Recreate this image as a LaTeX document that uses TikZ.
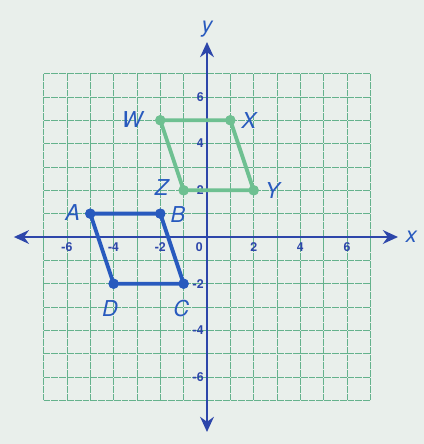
\documentclass[tikz,border=0pt]{standalone}
\usepackage{fontspec}
\setmainfont{TeX Gyre Heros}
\usetikzlibrary{arrows.meta}
\definecolor{bgc}{RGB}{233,239,235}
\definecolor{gridc}{RGB}{100,178,140}
\definecolor{axisc}{RGB}{45,70,170}
\definecolor{bluec}{RGB}{40,90,190}
\definecolor{greenc}{RGB}{110,192,145}
\tikzset{
  gridline/.style={draw=gridc, line width=0.55pt, dash pattern=on 5pt off 0.7pt},
  axisline/.style={draw=axisc, line width=1.8pt, -{Stealth[length=11pt,width=10pt]}},
  bshape/.style={draw=bluec, line width=2.8pt, line join=round},
  gshape/.style={draw=greenc, line width=2.8pt, line join=round},
  bdot/.style={circle, fill=bluec, inner sep=0pt, minimum size=7.5pt},
  gdot/.style={circle, fill=greenc, inner sep=0pt, minimum size=7.5pt},
  ptlabel/.style={text=bluec, font=\fontsize{16}{16}\selectfont\itshape, inner sep=0pt},
  ticklabel/.style={text=axisc, font=\fontsize{9}{9}\selectfont\bfseries, inner sep=0pt},
}
\begin{document}
\begin{tikzpicture}[x=0.6cm,y=0.6cm]
\fill[bgc] (-8.865,-8.865) rectangle (9.293,10.15);
\useasboundingbox (-8.865,-8.865) rectangle (9.293,10.15);
% grid
\foreach \i in {-7,...,7} {
  \draw[gridline] (\i,-7) -- (\i,7);
  \draw[gridline] (-7,\i) -- (7,\i);
}
% axes
\coordinate (xl) at (-8.27,0);
\coordinate (xr) at (8.18,0);
\coordinate (yb) at (0,-8.35);
\coordinate (yt) at (0,8.35);
\draw[axisline] (0,0) -- (xr);
\draw[axisline] (0,0) -- (xl);
\draw[axisline] (0,0) -- (yt);
\draw[axisline] (0,0) -- (yb);
\node[ptlabel] (xlab) at (8.75,0) {x};
\node[ptlabel] (ylab) at (0,8.9) {y};
% tick labels
\foreach \v/\n in {-6/tm6,-4/tm4,-2/tm2,2/tp2,4/tp4,6/tp6} {
  \node[ticklabel] (x\n) at (\v,-0.45) {\v};
}
\node[ticklabel] (x0) at (-0.33,-0.42) {0};
\foreach \v/\n in {-6/tm6,-4/tm4,-2/tm2,2/tp2,4/tp4,6/tp6} {
  \node[ticklabel, anchor=east] (y\n) at (-0.13,\v) {\v};
}
% green parallelogram
\node[gdot] (W) at (-2,5) {};
\node[gdot] (X) at (1,5) {};
\node[gdot] (Y) at (2,2) {};
\node[gdot] (Z) at (-1,2) {};
\draw[gshape] (W.center) -- (X.center) -- (Y.center) -- (Z.center) -- cycle;
\node[gdot] at (W) {};
\node[gdot] at (X) {};
\node[gdot] at (Y) {};
\node[gdot] at (Z) {};
% blue parallelogram
\node[bdot] (A) at (-5,1) {};
\node[bdot] (B) at (-2,1) {};
\node[bdot] (C) at (-1,-2) {};
\node[bdot] (D) at (-4,-2) {};
\draw[bshape] (A.center) -- (B.center) -- (C.center) -- (D.center) -- cycle;
\node[bdot] at (A) {};
\node[bdot] at (B) {};
\node[bdot] at (C) {};
\node[bdot] at (D) {};
% labels
\node[ptlabel] (lW) at (-3.2,5.05) {W};
\node[ptlabel] (lX) at (1.8,5.0) {X};
\node[ptlabel] (lY) at (2.8,2.0) {Y};
\node[ptlabel] (lZ) at (-1.95,2.1) {Z};
\node[ptlabel] (lA) at (-5.75,1.05) {A};
\node[ptlabel] (lB) at (-1.25,0.97) {B};
\node[ptlabel] (lC) at (-1.1,-3.05) {C};
\node[ptlabel] (lD) at (-4.15,-3.05) {D};
\end{tikzpicture}
\end{document}
